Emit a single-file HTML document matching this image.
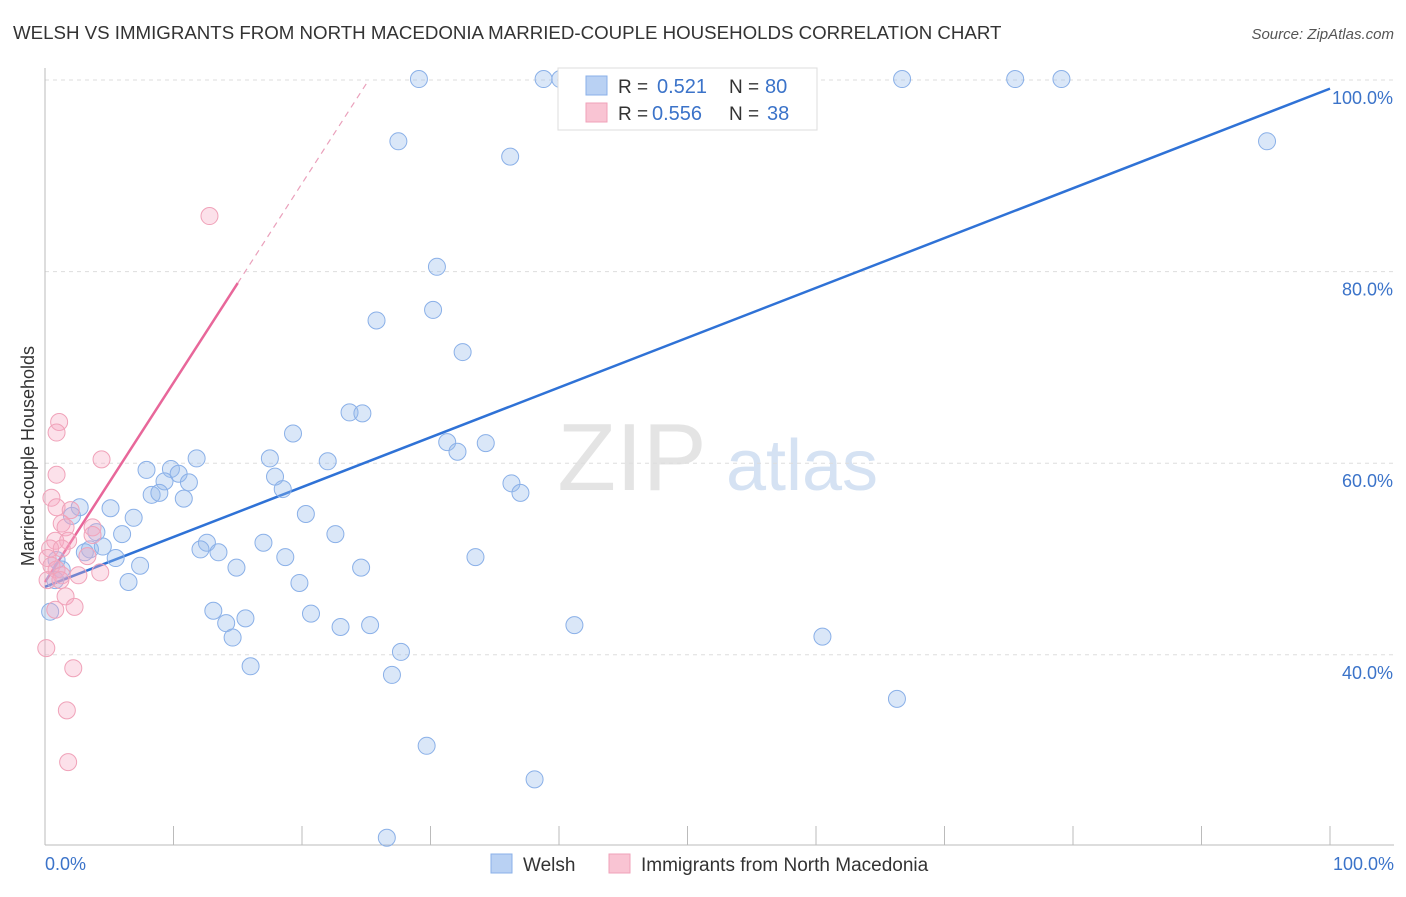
<!DOCTYPE html>
<html><head><meta charset="utf-8"><style>
body{margin:0;background:#fff;font-family:"Liberation Sans",sans-serif}
svg text{font-family:"Liberation Sans",sans-serif}
</style></head><body>
<svg id="chart" width="1406" height="892" viewBox="0 0 1406 892" xmlns="http://www.w3.org/2000/svg">
<text x="13" y="39" font-size="18.7" fill="#333">WELSH VS IMMIGRANTS FROM NORTH MACEDONIA MARRIED-COUPLE HOUSEHOLDS CORRELATION CHART</text>
<text x="1394" y="39" font-size="15" fill="#555" text-anchor="end" font-style="italic">Source: ZipAtlas.com</text>
<g>
<text x="632" y="490" font-size="96" fill="#e4e4e4" text-anchor="middle" font-family="Liberation Serif">ZIP</text>
<text x="802" y="490" font-size="72" fill="#d5e2f3" text-anchor="middle">atlas</text>
</g>
<g id="grid"></g>
<g id="axes"></g>
<text transform="translate(34,456) rotate(-90)" font-size="18" fill="#333" text-anchor="middle">Married-couple Households</text>
<g id="lines"></g>
<g id="points"></g>
<g>
<rect x="558" y="68" width="259" height="62" fill="#fff" stroke="#ddd"/>
<rect x="586" y="76" width="21" height="19" fill="#b9d1f3" stroke="#8ab0e8"/>
<rect x="586" y="103" width="21" height="19" fill="#f9c4d3" stroke="#f0a2b9"/>
<text x="618" y="93" font-size="19" fill="#333">R = </text><text x="657" y="93" font-size="20" fill="#3b73c9">0.521</text>
<text x="729" y="93" font-size="19" fill="#333">N = </text><text x="765" y="93" font-size="20" fill="#3b73c9">80</text>
<text x="618" y="120" font-size="19" fill="#333">R = </text><text x="652" y="120" font-size="20" fill="#3b73c9">0.556</text>
<text x="729" y="120" font-size="19" fill="#333">N = </text><text x="767" y="120" font-size="20" fill="#3b73c9">38</text>
</g>
<g>
<rect x="491" y="854" width="21" height="19" fill="#b9d1f3" stroke="#8ab0e8"/>
<text x="523" y="871" font-size="19" fill="#333">Welsh</text>
<rect x="609" y="854" width="21" height="19" fill="#f9c4d3" stroke="#f0a2b9"/>
<text x="641" y="871" font-size="19" fill="#333">Immigrants from North Macedonia</text>
</g>
</svg>
<script>
const yTicks=[40,60,80,100];
const yTickLabels=["40.0%","60.0%","80.0%","100.0%"];
const xTickLabels=["0.0%","100.0%"];
const welshX=[29.1,38.8,40.1,45.7,47.6,54.2,66.7,75.5,79.1,27.5,36.2,95.1,30.5,30.2,25.8,32.5,23.7,24.7,19.3,31.3,32.1,34.3,7.9,9.8,11.8,17.5,22.0,9.3,10.4,11.2,8.3,8.9,10.8,17.9,18.5,36.3,37.0,2.7,5.1,2.1,6.9,20.3,4.0,6.0,22.6,12.6,12.1,13.5,17.0,3.5,4.5,3.1,5.5,18.7,33.5,7.4,14.9,24.6,0.9,6.5,19.8,13.1,15.6,14.1,20.7,23.0,25.3,41.2,14.6,60.5,16.0,27.7,27.0,66.3,29.7,38.1,26.6,0.4,1.3,0.8];
const welshY=[100.1,100.1,100.1,100.1,100.1,100.1,100.1,100.1,100.1,93.6,92.0,93.6,80.5,76.0,74.9,71.6,65.3,65.2,63.1,62.2,61.2,62.1,59.3,59.4,60.5,60.5,60.2,58.1,58.9,58.0,56.7,56.9,56.3,58.6,57.3,57.9,56.9,55.4,55.3,54.5,54.3,54.7,52.8,52.6,52.6,51.7,51.0,50.7,51.7,51.0,51.3,50.7,50.1,50.2,50.2,49.3,49.1,49.1,49.9,47.6,47.5,44.6,43.8,43.3,44.3,42.9,43.1,43.1,41.8,41.9,38.8,40.3,37.9,35.4,30.5,27.0,20.9,44.5,48.9,47.8];
const macX=[12.8,1.1,0.9,4.4,0.9,0.5,0.9,2.0,1.3,1.6,3.7,3.7,0.8,1.8,0.4,1.3,0.2,3.3,0.5,0.9,1.3,2.6,4.3,0.2,1.2,1.6,2.3,0.8,0.1,2.2,1.7,1.8];
const macY=[85.8,64.3,63.2,60.4,58.8,56.4,55.4,55.1,53.7,53.3,53.3,52.5,51.9,51.9,51.1,51.1,50.1,50.3,49.3,48.9,48.3,48.3,48.6,47.8,47.8,46.1,45.0,44.7,40.7,38.6,34.2,28.8];
const welshTrend=[47.1,99.1];
const macTrend=[47.6,2.08];
const X0=45,X1=1330,Y100=80,PX=9.58;
const sx=v=>X0+(X1-X0)*v/100;
const sy=v=>Y100+(100-v)*PX;
const NS="http://www.w3.org/2000/svg";
function mk(tag,attrs,parent){const e=document.createElementNS(NS,tag);for(const k in attrs)e.setAttribute(k,attrs[k]);document.getElementById(parent).appendChild(e);return e;}
yTicks.forEach((t,i)=>{
 const g=mk('line',{x1:45,x2:1394,y1:sy(t),y2:sy(t),stroke:'#ddd','stroke-dasharray':'4,4'},'grid');
 
 
 const l=mk('text',{x:1393,y:sy(t)+24,'font-size':18,fill:'#3b73c9','text-anchor':'end'},'grid');
 l.textContent=yTickLabels[i];
 
 
});
const ya=mk('line',{x1:45,x2:45,y1:68,y2:845,stroke:'#bbb'},'axes');


const xa=mk('line',{x1:45,x2:1394,y1:845,y2:845,stroke:'#bbb'},'axes');


for(let i=0;i<=10;i++){
 const t=mk('line',{x1:sx(i*10),x2:sx(i*10),y1:826,y2:845,stroke:'#bbb'},'axes');
 
 
}
[[0,'start',45],[100,'end',1394]].forEach((d,i)=>{
 const l=mk('text',{x:d[2],y:870,'font-size':18,fill:'#3b73c9','text-anchor':d[1]},'axes');
 l.textContent=xTickLabels[i];
 
 
});
function pts(xs,ys,fill,stroke,name){xs.forEach((x,i)=>{
 const c=mk('circle',{cx:sx(x),cy:sy(ys[i]),r:8.5,fill:fill,stroke:stroke,'stroke-width':1},'points');
 
 
});}
pts(welshX,welshY,'rgba(150,185,235,0.35)','#8ab0e8','welsh-point');
pts(macX,macY,'rgba(245,170,195,0.35)','#f0a2b9','north-macedonia-point');
const bl=mk('line',{x1:sx(0),y1:sy(welshTrend[0]),x2:sx(100),y2:sy(welshTrend[1]),stroke:'#2f72d6','stroke-width':2.5},'lines');


const xEnd=15,xDash=(100-macTrend[0])/macTrend[1];
const pl=mk('line',{x1:sx(0),y1:sy(macTrend[0]),x2:sx(xEnd),y2:sy(macTrend[0]+macTrend[1]*xEnd),stroke:'#e8679a','stroke-width':2.5},'lines');


const pd=mk('line',{x1:sx(xEnd),y1:sy(macTrend[0]+macTrend[1]*xEnd),x2:sx(xDash),y2:sy(100),stroke:'#eaa0bb','stroke-width':1.2,'stroke-dasharray':'6,5'},'lines');


</script>
</body></html>
